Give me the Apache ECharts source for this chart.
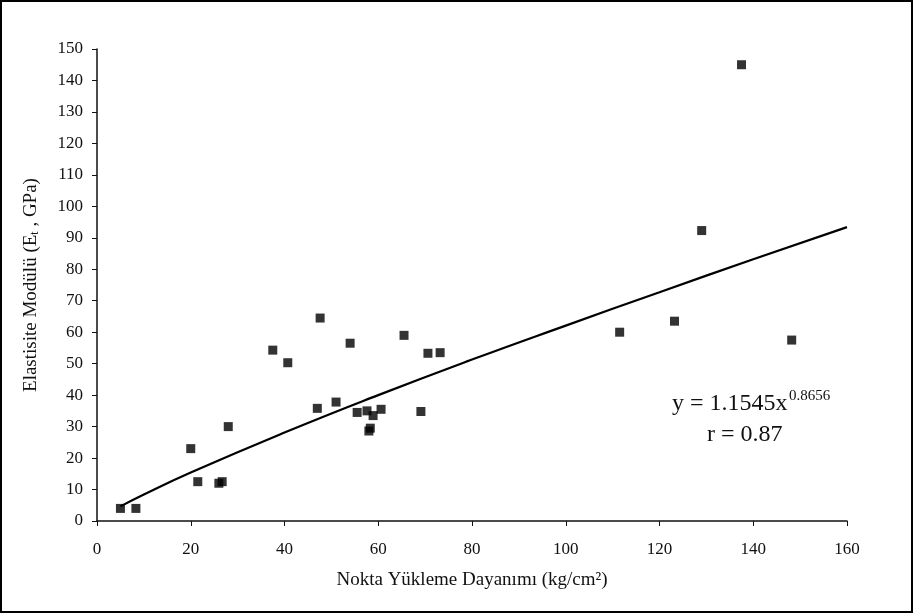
<!DOCTYPE html>
<html>
<head>
<meta charset="utf-8">
<script src="https://cdn.jsdelivr.net/npm/echarts@6/dist/echarts.min.js"></script>
<style>
  html, body { margin: 0; padding: 0; background: #fff; }
  #chart { width: 914px; height: 614px; }
</style>
</head>
<body>
<div id="chart"></div>
<script>
// nokta yükleme dayanımı (x) ve elastisite modülü (y)
const pointX = [5, 8.3, 20, 21.5, 26, 26.7, 28, 37.5, 40.7, 47.6, 47, 51, 54, 55.5, 57.6, 58, 58.3, 58.9, 60.6, 65.5, 69.1, 70.6, 73.2, 111.5, 123.2, 129, 137.5, 148.2];
const pointY = [4, 4, 23, 12.5, 12, 12.5, 30, 54.3, 50.3, 64.5, 35.8, 37.8, 56.5, 34.5, 35, 28.6, 29.5, 33.5, 35.5, 59, 34.8, 53.3, 53.5, 60, 63.5, 92.3, 145, 57.5];

// trend eğrisi (y = 1.1545x^0.8656), eğri üzerinden okunan noktalar
const trendX = [5, 10, 20, 40, 60, 80, 100, 120, 140, 160];
const trendY = [4.65, 8.4, 15.4, 28.1, 40.0, 51.3, 62.1, 72.7, 83.2, 93.4];

const xTicks = { min: 0, max: 160, interval: 20 };
const yTicks = { min: 0, max: 150, interval: 10 };

const serif = 'Liberation Serif';

const chart = echarts.init(document.getElementById('chart'));
chart.setOption({
  animation: false,
  backgroundColor: '#fff',
  grid: { left: 97, right: 67, top: 49, bottom: 93 },
  xAxis: {
    type: 'value',
    min: xTicks.min, max: xTicks.max, interval: xTicks.interval,
    name: 'Nokta Yükleme Dayanımı (kg/cm²)',
    nameLocation: 'middle',
    nameGap: 50,
    nameTextStyle: { fontFamily: serif, fontSize: 19, color: '#111' },
    axisLine: { lineStyle: { color: '#111', width: 1.5 } },
    axisTick: { inside: false, length: 5, lineStyle: { color: '#111' } },
    axisLabel: { fontFamily: serif, fontSize: 17, color: '#111', margin: 20 },
    splitLine: { show: false }
  },
  yAxis: {
    type: 'value',
    min: yTicks.min, max: yTicks.max, interval: yTicks.interval,
    name: '{n|Elastisite Modülü (E}{s|t}{n| , GPa)}',
    nameLocation: 'middle',
    nameGap: 56,
    nameTextStyle: {
      rich: {
        n: { fontFamily: serif, fontSize: 19, color: '#111' },
        s: { fontFamily: serif, fontSize: 12, color: '#111', verticalAlign: 'bottom', padding: [8, 0, 0, 0] }
      }
    },
    axisLine: { show: true, lineStyle: { color: '#111', width: 1.5 } },
    axisTick: { show: true, length: 5, lineStyle: { color: '#111' } },
    axisLabel: { fontFamily: serif, fontSize: 17, color: '#111', margin: 14 },
    splitLine: { show: false }
  },
  series: [
    {
      type: 'scatter',
      data: pointX.map((x, i) => [x, pointY[i]]),
      symbol: 'rect',
      symbolSize: 9,
      itemStyle: { color: '#000' },
      z: 3
    },
    {
      type: 'line',
      data: trendX.map((x, i) => [x, trendY[i]]),
      smooth: true,
      symbol: 'none',
      lineStyle: { color: '#000', width: 2.2 },
      z: 2
    }
  ],
  graphic: [
    {
      type: 'rect',
      shape: { x: 1, y: 1, width: 911, height: 611 },
      style: { fill: 'none', stroke: '#000', lineWidth: 2 },
      silent: true
    },
    {
      type: 'text', left: 672, top: 392,
      style: { text: 'y = 1.1545x', fontFamily: serif, fontSize: 24, fill: '#111' }
    },
    {
      type: 'text', left: 789, top: 389,
      style: { text: '0.8656', fontFamily: serif, fontSize: 15, fill: '#111' }
    },
    {
      type: 'text', left: 707, top: 423,
      style: { text: 'r = 0.87', fontFamily: serif, fontSize: 24, fill: '#111' }
    }
  ]
});
</script>
</body>
</html>
